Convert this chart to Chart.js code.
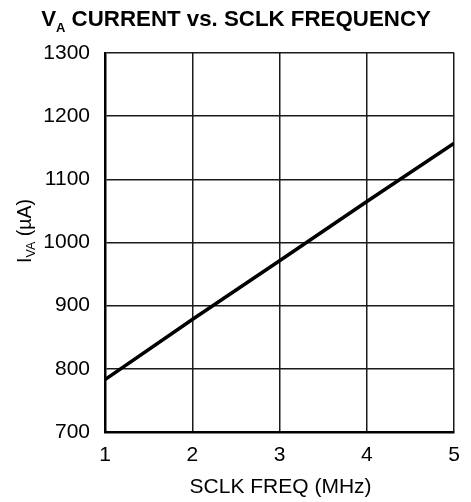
<!DOCTYPE html>
<html>
<head>
<meta charset="utf-8">
<script src="https://cdn.jsdelivr.net/npm/chart.js@4/dist/chart.umd.min.js"></script>
<style>
  html, body { margin: 0; padding: 0; background: #ffffff; }
  #wrap { width: 471px; height: 502px; position: relative; }
</style>
</head>
<body>
<div id="wrap"><canvas id="c" width="471" height="502"></canvas></div>
<script>
// ---- data ----
const freqMHz = [1, 2, 3, 4, 5];
const currentUA = [783, 878, 971, 1065, 1157];
const xTicks = [1, 2, 3, 4, 5];
const yTicks = [700, 800, 900, 1000, 1100, 1200, 1300];

const titleMain = "V";
const titleSub = "A";
const titleRest = " CURRENT vs. SCLK FREQUENCY";
const yTitleMain = "I";
const yTitleSub = "VA";
const yTitleRest = " (\u00B5A)";
const xTitle = "SCLK FREQ (MHz)";

const FONT = '"Liberation Sans", Arial, Helvetica, sans-serif';

const textPlugin = {
  id: 'texts',
  afterDraw(chart) {
    const ctx = chart.ctx;
    const area = chart.chartArea;
    ctx.save();
    ctx.fillStyle = '#000';
    ctx.textBaseline = 'alphabetic';
    ctx.textAlign = 'left';

    // Main title with subscript
    const fMain = 'bold 22.3px ' + FONT;
    const fSub = 'bold 13px ' + FONT;
    ctx.font = fMain;
    const w1 = ctx.measureText(titleMain).width;
    const w3 = ctx.measureText(titleRest).width;
    ctx.font = fSub;
    const w2 = ctx.measureText(titleSub).width;
    const total = w1 + w2 + w3;
    let x = 236 - total / 2;
    const by = 26;
    ctx.font = fMain; ctx.fillText(titleMain, x, by); x += w1;
    ctx.font = fSub; ctx.fillText(titleSub, x, by + 6); x += w2;
    ctx.font = fMain; ctx.fillText(titleRest, x, by);

    // Y title (rotated) with subscript
    const yMain = '19.5px ' + FONT;
    const ySub = '12.5px ' + FONT;
    ctx.font = yMain;
    const a1 = ctx.measureText(yTitleMain).width;
    const a3 = ctx.measureText(yTitleRest).width;
    ctx.font = ySub;
    const a2 = ctx.measureText(yTitleSub).width;
    const tot = a1 + a2 + a3;
    ctx.translate(31, 231);
    ctx.rotate(-Math.PI / 2);
    let lx = -tot / 2;
    ctx.font = yMain; ctx.fillText(yTitleMain, lx, 0); lx += a1;
    ctx.font = ySub; ctx.fillText(yTitleSub, lx, 4); lx += a2;
    ctx.font = yMain; ctx.fillText(yTitleRest, lx, 0);
    ctx.setTransform(1, 0, 0, 1, 0, 0);

    // X title
    ctx.font = '21px ' + FONT;
    ctx.textAlign = 'center';
    ctx.fillText(xTitle, (area.left + area.right) / 2 + 1, 493);
    ctx.restore();
  }
};

new Chart(document.getElementById('c'), {
  type: 'line',
  data: {
    datasets: [{
      data: freqMHz.map((f, i) => ({ x: f, y: currentUA[i] })),
      borderColor: '#000',
      borderWidth: 3.5,
      pointRadius: 0,
      tension: 0,
      fill: false
    }]
  },
  options: {
    responsive: false,
    animation: false,
    devicePixelRatio: 1,
    layout: { padding: { top: 53, right: 11, left: 0, bottom: 0 } },
    plugins: {
      legend: { display: false },
      tooltip: { enabled: false },
      title: { display: false }
    },
    scales: {
      x: {
        type: 'linear',
        min: 1, max: 5,
        afterFit(scale) { scale.height = 70; },
        afterBuildTicks(scale) { scale.ticks = xTicks.map(v => ({ value: v })); },
        grid: { color: '#1a1a1a', lineWidth: 1.5, drawTicks: false },
        border: { color: '#000', width: 2.5 },
        ticks: {
          color: '#000',
          padding: 11,
          font: { family: FONT, size: 21 },
          maxRotation: 0,
          autoSkip: false,
          callback: v => String(v)
        }
      },
      y: {
        type: 'linear',
        min: 700, max: 1300,
        afterFit(scale) { scale.width = 105; },
        afterBuildTicks(scale) { scale.ticks = yTicks.map(v => ({ value: v })); },
        grid: { color: '#1a1a1a', lineWidth: 1.5, drawTicks: false },
        border: { color: '#000', width: 2.5 },
        ticks: {
          color: '#000',
          padding: 15,
          font: { family: FONT, size: 21 },
          autoSkip: false,
          callback: v => String(v)
        }
      }
    }
  },
  plugins: [textPlugin]
});
</script>
</body>
</html>
